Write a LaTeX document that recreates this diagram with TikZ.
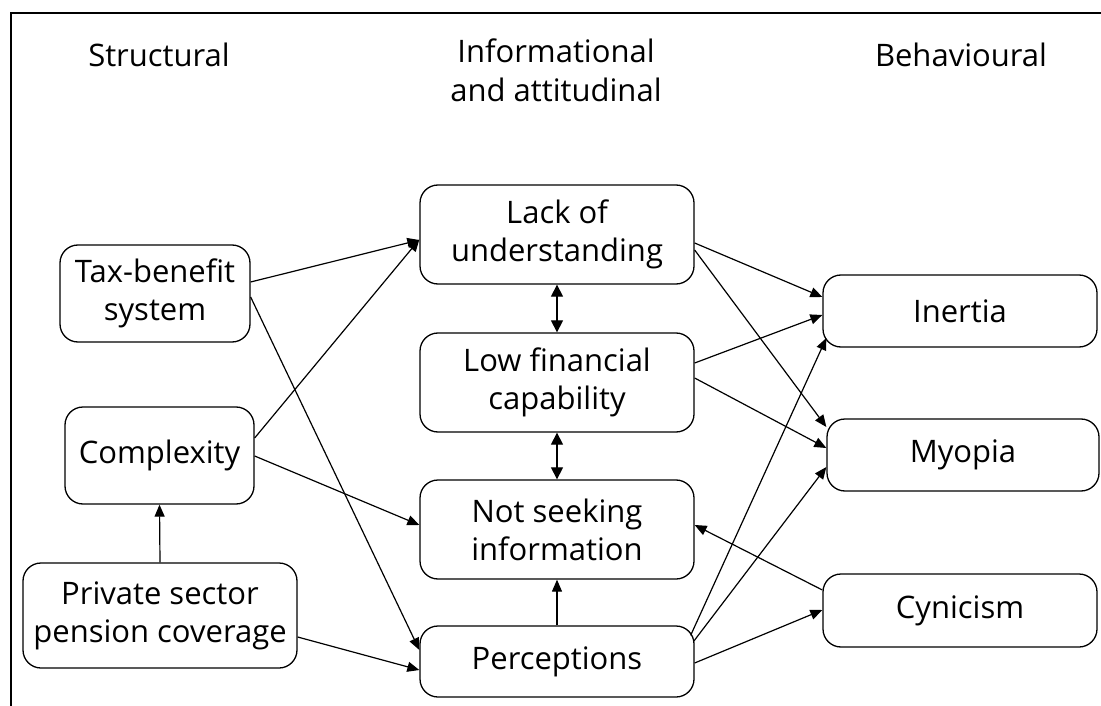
\documentclass[tikz,border=0pt]{standalone}
\usepackage{fontspec}
\setmainfont{Open Sans}
\usetikzlibrary{arrows.meta,calc}
\begin{document}
\begin{tikzpicture}[x=1pt,y=-1pt,
  box/.style={draw,line width=1.3pt,rounded corners=18pt,align=center,inner sep=0pt,
    font=\fontsize{31}{38}\selectfont},
  hdr/.style={align=center,font=\fontsize{31}{39}\selectfont},
  arr/.style={line width=1.2pt,-{Triangle[length=12pt,width=10pt]}},
  darr/.style={line width=1.2pt,{Triangle[length=12pt,width=12pt]}-{Triangle[length=12pt,width=12pt]}},
  frame/.style={line width=2.5pt}]
\useasboundingbox (0,0) rectangle (1101,706);
\coordinate (ftr) at (1101,13);
\coordinate (ftl) at (11,13);
\coordinate (fbl) at (11,706);
\draw[frame] (ftr) -- (ftl) -- (fbl);
\node[hdr] (h1) at (159,55) {Structural};
\node[hdr] (h2) at (556,70) {Informational\\and attitudinal};
\node[hdr] (h3) at (961,55) {Behavioural};
\node[box,minimum width=190pt,minimum height=97pt] (tax) at (155,293.5) {Tax-benefit\\system};
\node[box,minimum width=189pt,minimum height=97pt] (comp) at (159.5,455.5) {Complexity};
\node[box,minimum width=274pt,minimum height=105pt] (priv) at (160,615.5) {Private sector\\pension coverage};
\node[box,minimum width=274pt,minimum height=99pt] (lack) at (557,234.5) {Lack of\\understanding};
\node[box,minimum width=274pt,minimum height=99pt] (low) at (557,382.5) {Low financial\\capability};
\node[box,minimum width=274pt,minimum height=99pt] (notseek) at (557,529.5) {Not seeking\\information};
\node[box,minimum width=274pt,minimum height=71pt] (perc) at (557,661.5) {Perceptions};
\node[box,minimum width=274pt,minimum height=72pt] (inertia) at (960,311) {Inertia};
\node[box,minimum width=272pt,minimum height=72pt] (myopia) at (963,455) {Myopia};
\node[box,minimum width=274pt,minimum height=73pt] (cyn) at (960,610.5) {Cynicism};
% connectors
\draw[arr] ($(tax.east)+(0,-11.5)$) -- ($(lack.west)+(0,5.5)$);
\draw[arr] ($(tax.east)+(0,3.5)$) -- ($(perc.west)+(0,-11.5)$);
\draw[arr] ($(comp.east)+(0,-17.5)$) -- ($(lack.west)+(0,5)$);
\draw[arr] ($(comp.east)+(0,0.5)$) -- ($(notseek.west)+(0,-4.5)$);
\draw[arr] (priv.north) -- (comp.south);
\draw[arr] ($(priv.east)+(0,21.5)$) -- ($(perc.west)+(0,8.5)$);
\draw[darr] (lack.south) -- (low.north);
\draw[darr] (low.south) -- (notseek.north);
\draw[arr] (perc.north) -- (notseek.south);
\draw[arr] ($(lack.east)+(0,8.5)$) -- ($(inertia.west)+(0,-14)$);
\draw[arr] ($(lack.east)+(0,15.5)$) -- ($(myopia.west)+(0,-28)$);
\draw[arr] ($(low.east)+(0,-19.5)$) -- ($(inertia.west)+(0,4)$);
\draw[arr] ($(low.east)+(0,-4.5)$) -- ($(myopia.west)+(0,-7)$);
\draw[arr] ($(perc.north east)+(-4,10)$) -- ($(inertia.west)+(4,27)$);
\draw[arr] ($(perc.north east)+(-1,16)$) -- ($(myopia.west)+(0,12)$);
\draw[arr] ($(perc.east)+(0,1.5)$) -- ($(cyn.west)+(0,-0.5)$);
\draw[arr] ($(cyn.west)+(0,-20.5)$) -- ($(notseek.east)+(0,-4.5)$);
\end{tikzpicture}
\end{document}
